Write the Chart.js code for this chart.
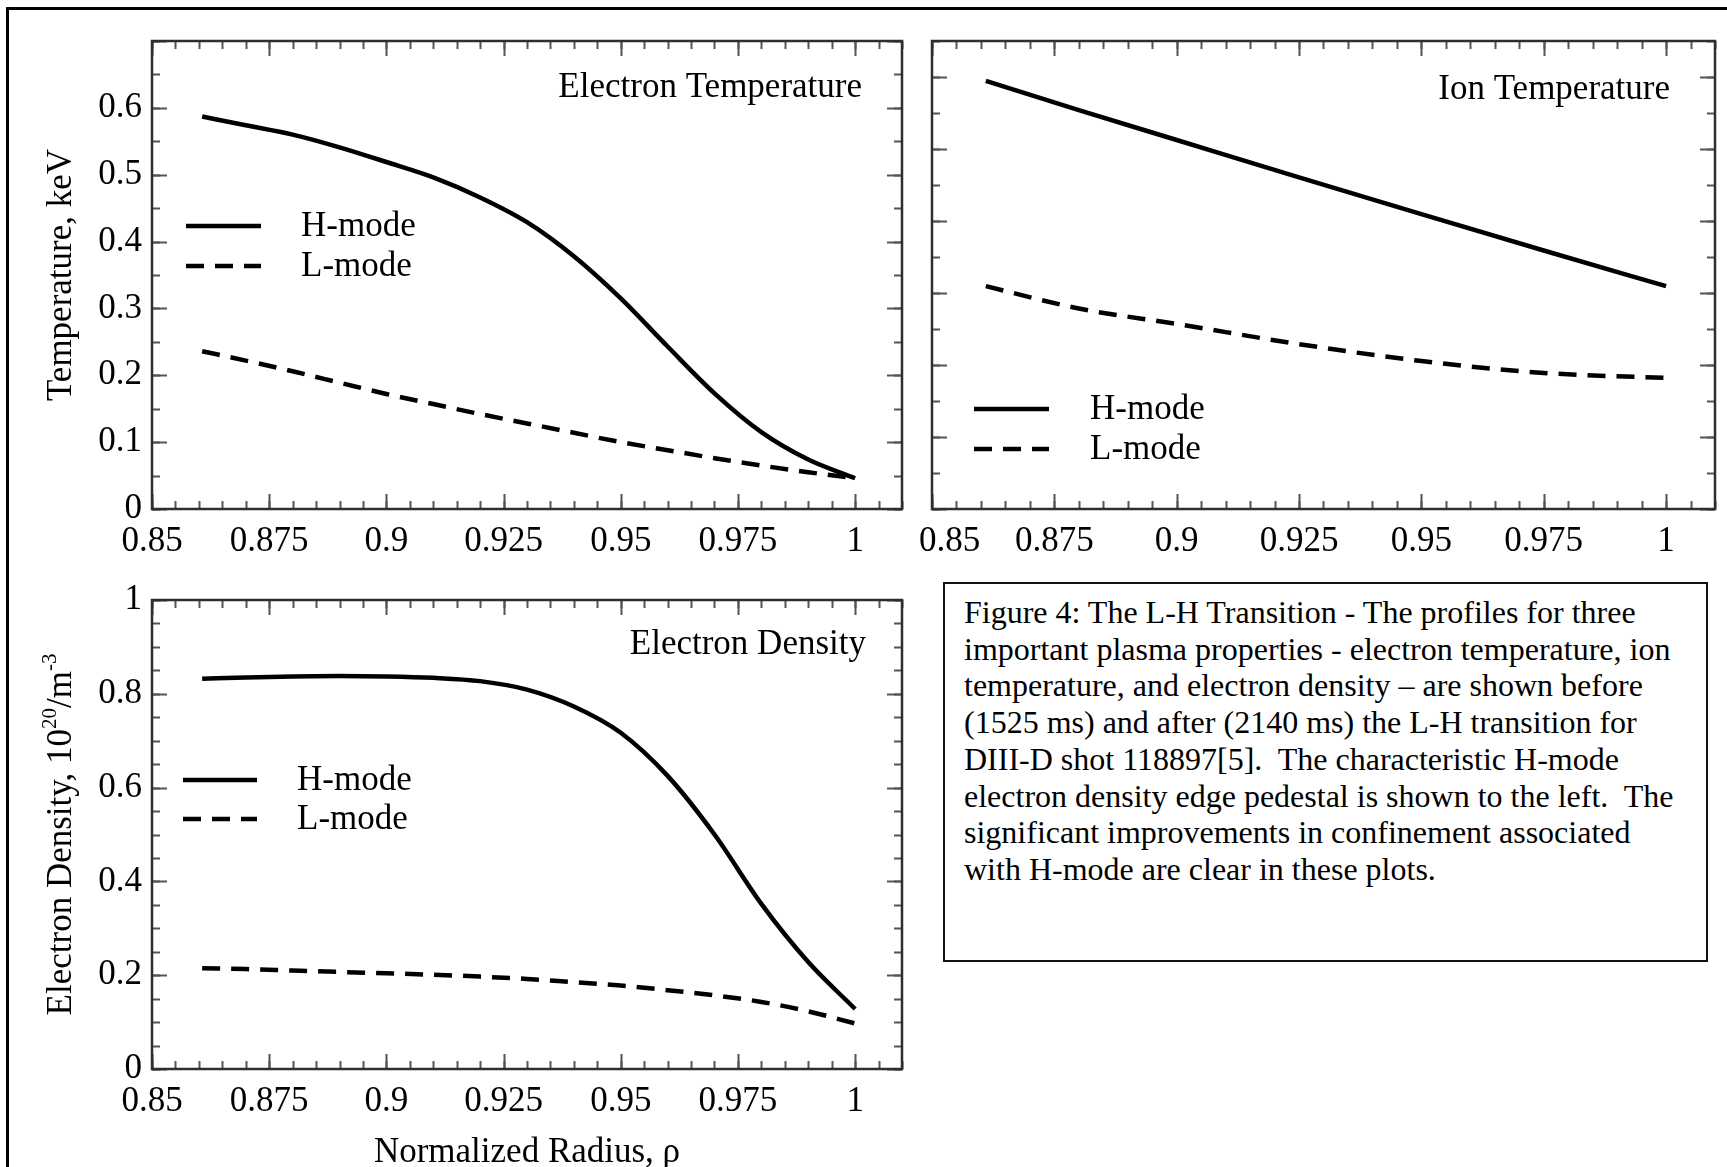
<!DOCTYPE html>
<html>
<head>
<meta charset="utf-8">
<script src="https://cdn.jsdelivr.net/npm/chart.js@4.4.1/dist/chart.umd.min.js"></script>
<style>
  html, body { margin:0; padding:0; background:#fff; width:1727px; height:1167px; overflow:hidden; }
  .frame { position:absolute; left:6px; top:7px; width:1800px; height:1300px; border-top:3px solid #000; border-left:3px solid #000; }
  canvas { position:absolute; }
  #caption { position:absolute; left:943px; top:582px; width:765px; height:380px; box-sizing:border-box;
    border:2px solid #111; padding:10px 0 0 19px; font-family:'Liberation Serif', serif; font-size:32px;
    line-height:36.7px; white-space:nowrap; color:#000; }
</style>
</head>
<body>
<div class="frame"></div>
<canvas id="c1" width="925" height="565" style="left:0px;top:0px"></canvas>
<canvas id="c2" width="867" height="565" style="left:860px;top:0px"></canvas>
<canvas id="c3" width="925" height="602" style="left:0px;top:565px"></canvas>
<div id="caption"></div>
<script>
// ---------------- data ----------------
const xTickVals   = [0.85, 0.875, 0.9, 0.925, 0.95, 0.975, 1.0];
const xTickLabels = ['0.85', '0.875', '0.9', '0.925', '0.95', '0.975', '1'];

const teTickVals   = [0, 0.1, 0.2, 0.3, 0.4, 0.5, 0.6];
const teTickLabels = ['0', '0.1', '0.2', '0.3', '0.4', '0.5', '0.6'];
const tiTickVals   = [0, 0.2, 0.4, 0.6, 0.8, 1.0, 1.2];
const neTickVals   = [0, 0.2, 0.4, 0.6, 0.8, 1];
const neTickLabels = ['0', '0.2', '0.4', '0.6', '0.8', '1'];

const seriesNames = ['H-mode', 'L-mode'];
const panelTitles = ['Electron Temperature', 'Ion Temperature', 'Electron Density'];
const xAxisTitle  = 'Normalized Radius, \u03c1';
const teAxisTitle = 'Temperature, keV';

// Electron temperature (keV)
const teRho = [0.8607, 0.87, 0.88, 0.89, 0.9, 0.91, 0.92, 0.93, 0.94, 0.95, 0.96, 0.97, 0.98, 0.99, 1.0];
const teH   = [0.587, 0.574, 0.560, 0.541, 0.519, 0.496, 0.466, 0.429, 0.378, 0.315, 0.243, 0.173, 0.115, 0.074, 0.046];
const teL   = [0.236, 0.222, 0.206, 0.189, 0.172, 0.157, 0.142, 0.128, 0.114, 0.100, 0.088, 0.076, 0.065, 0.055, 0.046];

// Ion temperature (unlabelled axis)
const tiRho = [0.861, 0.88, 0.9, 0.925, 0.95, 0.975, 1.0];
const tiH   = [1.189, 1.108, 1.025, 0.921, 0.819, 0.718, 0.619];
const tiL   = [0.619, 0.557, 0.514, 0.458, 0.411, 0.378, 0.364];

// Electron density (10^20 / m^3)
const neRho = [0.8607, 0.87, 0.88, 0.89, 0.9, 0.91, 0.92, 0.93, 0.94, 0.95, 0.96, 0.97, 0.98, 0.99, 1.0];
const neH   = [0.832, 0.835, 0.837, 0.838, 0.837, 0.834, 0.827, 0.809, 0.773, 0.717, 0.625, 0.500, 0.352, 0.228, 0.128];
const neL   = [0.215, 0.213, 0.210, 0.207, 0.204, 0.201, 0.197, 0.192, 0.185, 0.178, 0.168, 0.157, 0.143, 0.123, 0.097];

const captionLines = [
  'Figure 4: The L-H Transition - The profiles for three',
  'important plasma properties - electron temperature, ion',
  'temperature, and electron density \u2013 are shown before',
  '(1525 ms) and after (2140 ms) the L-H transition for',
  'DIII-D shot 118897[5].\u00a0 The characteristic H-mode',
  'electron density edge pedestal is shown to the left.\u00a0 The',
  'significant improvements in confinement associated',
  'with H-mode are clear in these plots.'
];

// ---------------- styling / plugins ----------------
const FONT = "'Liberation Serif', 'Times New Roman', serif";
Chart.defaults.font.family = FONT;
Chart.defaults.color = '#000';

document.getElementById('caption').innerHTML = captionLines.map(s => s.replace(/&/g,'&amp;')).join('<br>');

const boxPlugin = {
  id: 'box',
  afterDraw(chart, args, o) {
    const {ctx, chartArea: a, scales: {x, y}} = chart;
    ctx.save();
    ctx.lineCap = 'butt';
    ctx.strokeStyle = '#555';
    ctx.lineWidth = 2;
    const ticksX = (step, len) => {
      const n = Math.round((x.max - x.min) / step);
      for (let i = 0; i <= n; i++) {
        const v = x.min + i * step;
        if (v > x.max + 1e-9) break;
        const p = Math.round(x.getPixelForValue(v)) + 0.5;
        ctx.beginPath();
        ctx.moveTo(p, a.bottom); ctx.lineTo(p, a.bottom - len);
        ctx.moveTo(p, a.top); ctx.lineTo(p, a.top + len);
        ctx.stroke();
      }
    };
    const ticksY = (step, len) => {
      const n = Math.round((y.max - y.min) / step);
      for (let i = 0; i <= n; i++) {
        const v = y.min + i * step;
        if (v > y.max + 1e-9) break;
        const p = Math.round(y.getPixelForValue(v)) + 0.5;
        ctx.beginPath();
        ctx.moveTo(a.left, p); ctx.lineTo(a.left + len, p);
        ctx.moveTo(a.right, p); ctx.lineTo(a.right - len, p);
        ctx.stroke();
      }
    };
    ticksX(o.xMinor, 8); ticksX(o.xMajor, 15);
    ticksY(o.yMinor, 8); ticksY(o.yMajor, 15);
    ctx.strokeStyle = '#2e2e2e';
    ctx.lineWidth = 2.5;
    ctx.strokeRect(a.left, a.top, a.right - a.left, a.bottom - a.top);
    ctx.restore();
  }
};

const decorPlugin = {
  id: 'decor',
  afterDraw(chart, args, o) {
    const {ctx, chartArea: a} = chart;
    ctx.save();
    ctx.fillStyle = '#000';
    ctx.font = '35px ' + FONT;
    ctx.textAlign = 'right';
    ctx.textBaseline = 'alphabetic';
    ctx.fillText(o.title, a.left + o.titleRight, a.top + o.titleBase);
    // legend
    const ds = chart.data.datasets;
    ds.forEach((d, i) => {
      const yy = a.top + o.legY[i];
      ctx.beginPath();
      ctx.strokeStyle = '#000';
      ctx.lineWidth = 4.5;
      ctx.setLineDash(d.borderDash || []);
      ctx.moveTo(a.left + o.legX1, yy);
      ctx.lineTo(a.left + o.legX2, yy);
      ctx.stroke();
      ctx.setLineDash([]);
      ctx.textAlign = 'left';
      ctx.textBaseline = 'middle';
      ctx.fillText(d.label, a.left + o.legText, yy + 1);
    });
    ctx.restore();
  }
};

const richTitlePlugin = {
  id: 'richTitle',
  afterDraw(chart, args, o) {
    if (!o.parts) return;
    const {ctx, chartArea: a} = chart;
    ctx.save();
    ctx.translate(o.cx, (a.top + a.bottom) / 2);
    ctx.rotate(-Math.PI / 2);
    ctx.fillStyle = '#000';
    ctx.textBaseline = 'middle';
    ctx.textAlign = 'left';
    let total = 0;
    o.parts.forEach(p => { ctx.font = (p.sup ? '21px ' : '35px ') + FONT; total += ctx.measureText(p.t).width; });
    let xx = -total / 2;
    o.parts.forEach(p => {
      ctx.font = (p.sup ? '21px ' : '35px ') + FONT;
      ctx.fillText(p.t, xx, p.sup ? -12 : 0);
      xx += ctx.measureText(p.t).width;
    });
    ctx.restore();
  }
};

function lineSets(rho, h, l) {
  return [
    { label: seriesNames[0], data: rho.map((r, i) => ({x: r, y: h[i]})), borderColor: '#000', borderWidth: 4.5,
      pointRadius: 0, fill: false, cubicInterpolationMode: 'monotone' },
    { label: seriesNames[1], data: rho.map((r, i) => ({x: r, y: l[i]})), borderColor: '#000', borderWidth: 4.5,
      borderDash: [18, 11], pointRadius: 0, fill: false, cubicInterpolationMode: 'monotone' }
  ];
}

function makeChart(id, cfg) {
  const tickFont = {family: FONT, size: 35};
  return new Chart(document.getElementById(id), {
    type: 'line',
    data: { datasets: lineSets(cfg.rho, cfg.h, cfg.l) },
    options: {
      responsive: false, animation: false, devicePixelRatio: 1,
      layout: { autoPadding: false, padding: cfg.padding },
      scales: {
        x: {
          type: 'linear', min: 0.85, max: 1.01,
          afterBuildTicks: s => { s.ticks = xTickVals.map(v => ({value: v})); },
          afterFit: s => { s.height = cfg.xHeight; },
          grid: { display: false, drawTicks: false }, border: { display: false },
          ticks: { font: tickFont, color: '#000', padding: 12, maxRotation: 0, autoSkip: false,
                   callback: (v, i) => (cfg.firstPad && i === 0 ? '\u2003' : '') + xTickLabels[i] },
          title: cfg.xTitle ? { display: true, text: xAxisTitle, font: {family: FONT, size: 35, lineHeight: 0.8},
                                color: '#000', padding: {top: 0, bottom: 0} } : { display: false }
        },
        y: {
          type: 'linear', min: 0, max: cfg.yMax,
          afterBuildTicks: s => { s.ticks = cfg.yTicks.map(v => ({value: v})); },
          afterFit: s => { s.width = cfg.yWidth; },
          grid: { display: false, drawTicks: false }, border: { display: false },
          ticks: { display: !!cfg.yLabels, font: tickFont, color: '#000', padding: 10, autoSkip: false,
                   callback: (v, i) => cfg.yLabels ? cfg.yLabels[i] : '' },
          title: cfg.yTitle ? { display: true, text: cfg.yTitle, font: {family: FONT, size: 35, lineHeight: 1.2},
                                color: '#000', padding: {top: 41, bottom: 0} } : { display: false }
        }
      },
      plugins: {
        legend: { display: false }, tooltip: { enabled: false },
        box: cfg.box, decor: cfg.decor, richTitle: cfg.rich || {}
      }
    },
    plugins: [boxPlugin, decorPlugin, richTitlePlugin]
  });
}

makeChart('c1', {
  rho: teRho, h: teH, l: teL, yMax: 0.7, yTicks: teTickVals, yLabels: teTickLabels, yTitle: teAxisTitle,
  padding: {top: 41, right: 23, left: 0, bottom: 0}, yWidth: 152, xHeight: 56,
  box: {xMinor: 0.005, xMajor: 0.025, yMinor: 0.05, yMajor: 0.1},
  decor: {title: panelTitles[0], titleRight: 710, titleBase: 56, legX1: 34, legX2: 109, legY: [185, 225], legText: 149}
});

makeChart('c2', {
  rho: tiRho, h: tiH, l: tiL, yMax: 1.3, yTicks: tiTickVals, yLabels: null, firstPad: true,
  padding: {top: 41, right: 12, left: 0, bottom: 0}, yWidth: 72, xHeight: 56,
  box: {xMinor: 0.005, xMajor: 0.025, yMinor: 0.1, yMajor: 0.2},
  decor: {title: panelTitles[1], titleRight: 738, titleBase: 58, legX1: 42, legX2: 117, legY: [368, 408], legText: 158}
});

makeChart('c3', {
  rho: neRho, h: neH, l: neL, yMax: 1, yTicks: neTickVals, yLabels: neTickLabels, xTitle: true,
  padding: {top: 35, right: 23, left: 0, bottom: 0}, yWidth: 152, xHeight: 98,
  box: {xMinor: 0.005, xMajor: 0.025, yMinor: 0.05, yMajor: 0.2},
  decor: {title: panelTitles[2], titleRight: 714, titleBase: 54, legX1: 31, legX2: 105, legY: [180, 219], legText: 145},
  rich: {cx: 62, parts: [{t: 'Electron Density, 10'}, {t: '20', sup: true}, {t: '/m'}, {t: '-3', sup: true}]}
});
</script>
</body>
</html>
